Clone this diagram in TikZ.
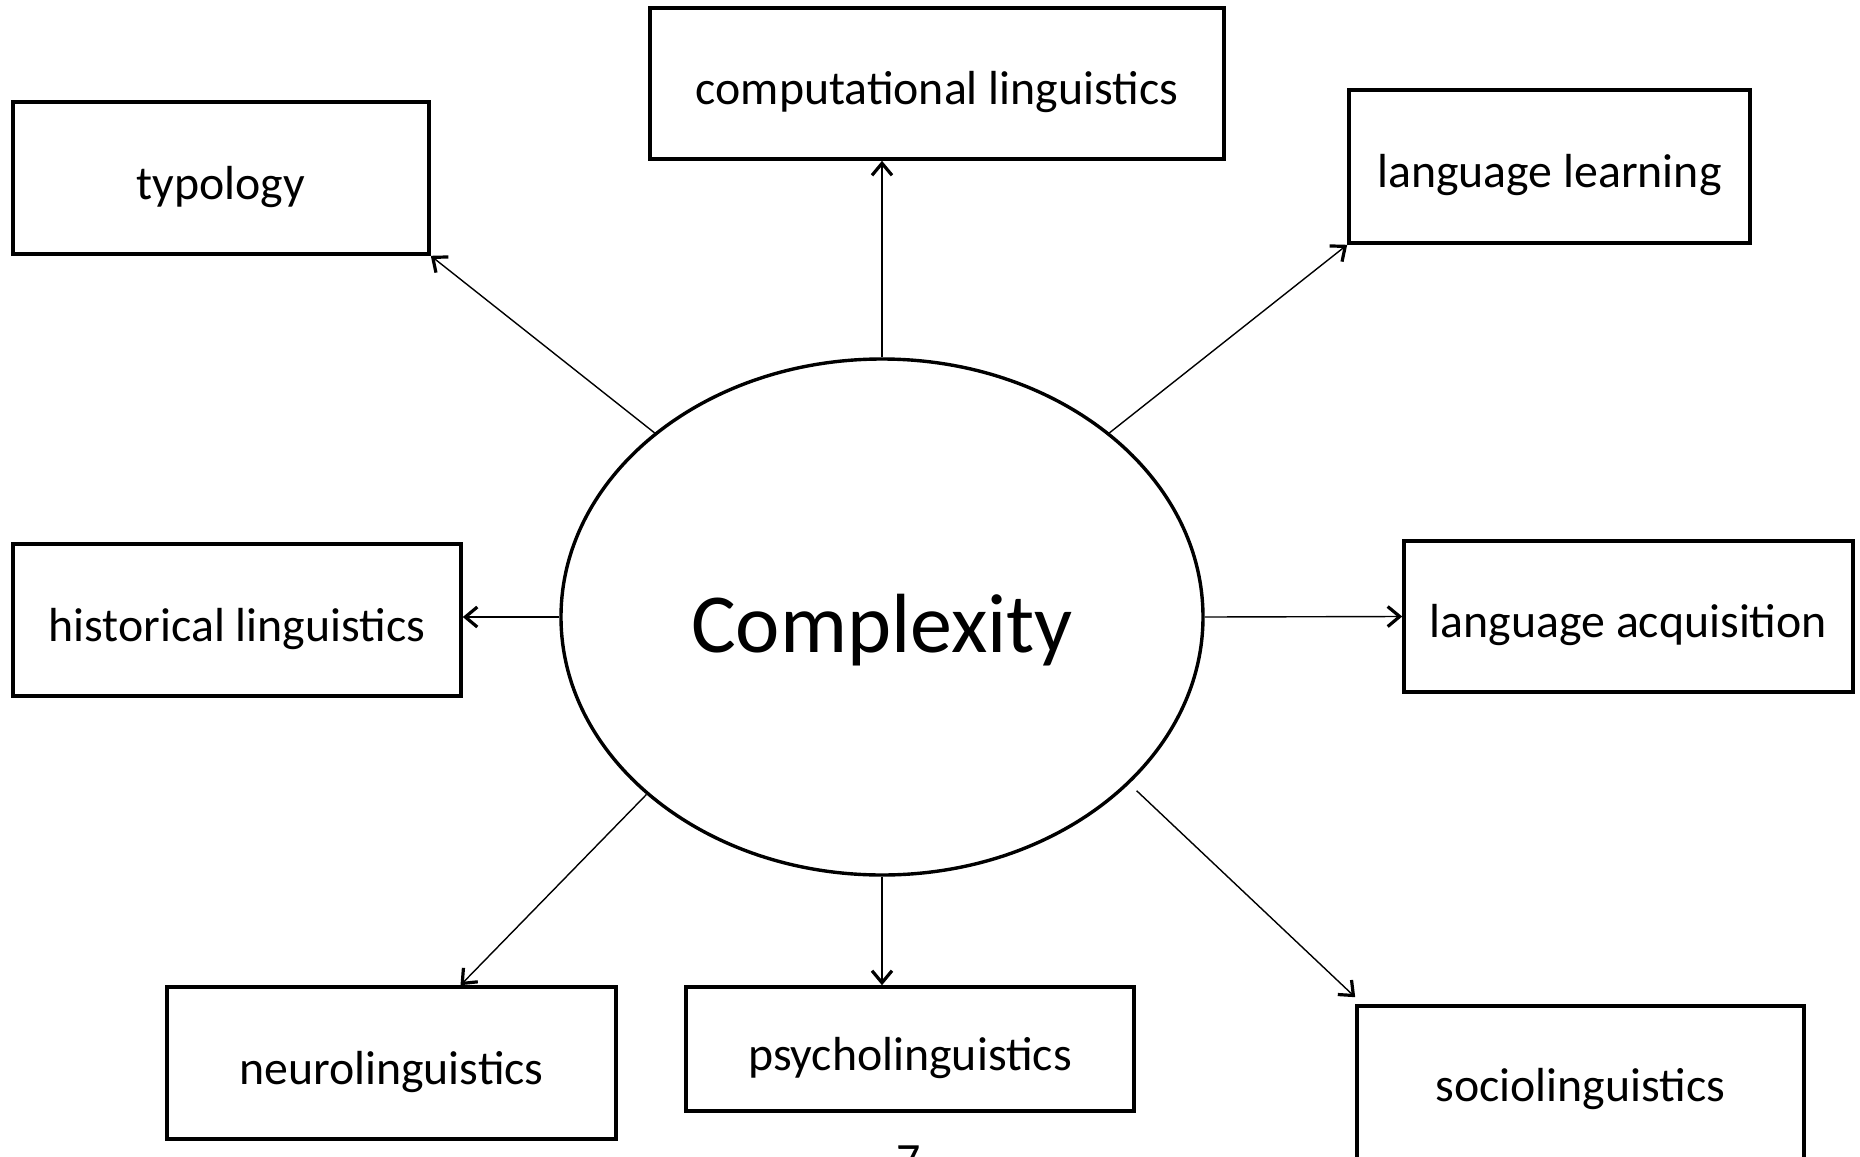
\documentclass[tikz,border=0pt]{standalone}
\usepackage{fontspec}
\setmainfont{Carlito}
\usetikzlibrary{arrows.meta,shapes.geometric,calc}
\begin{document}
\begin{tikzpicture}[x=0.5pt,y=-0.5pt,
  field/.style={draw,line width=1.8pt,rectangle,inner sep=0pt,
    font=\fontsize{23.9}{28}\selectfont,text height=21pt,text depth=0pt},
  hub/.style={draw,line width=1.7pt,ellipse,inner sep=0pt,
    minimum width=321pt,minimum height=258pt,font=\fontsize{42}{50}\selectfont,
    text height=35pt,text depth=0pt},
  link/.style={line width=0.7pt,-{Straight Barb[length=6pt,width=10pt,line width=1.6pt]}}]
\useasboundingbox (0,0) rectangle (1860,1157);
\node[hub] (ell) at (882,617) {Complexity};
\node[field,minimum width=208pt,minimum height=76pt] (typ) at (221,178) {typology};
\node[field,minimum width=287pt,minimum height=75.5pt] (comp) at (937,83.5) {computational linguistics};
\node[field,minimum width=200.5pt,minimum height=76.5pt] (learn) at (1549.5,166.5) {language learning};
\node[field,minimum width=224pt,minimum height=76pt] (hist) at (237,620) {historical linguistics};
\node[field,minimum width=224.5pt,minimum height=75.5pt] (acq) at (1628.5,616.5) {language acquisition};
\node[field,minimum width=224.5pt,minimum height=76pt] (neuro) at (391.5,1063) {neurolinguistics};
\node[field,minimum width=224pt,minimum height=62pt] (psycho) at (910,1049) {psycholinguistics};
\node[field,minimum width=223.5pt,minimum height=80pt,text height=15pt] (socio) at (1580.5,1086) {sociolinguistics};
\node[anchor=base,font=\fontsize{23.9}{28}\selectfont] (pg) at (909,1176) {7};
\draw[link] (ell.141.3) -- (typ.south east);
\draw[link] (ell.north) -- (ell.north |- comp.south);
\draw[link] (ell.39) -- (learn.south west);
\draw[link] (ell.west) -- (ell.west -| hist.east);
\draw[link] (ell.east) -- (acq.west);
\draw[link] (ell.217.5) -- ([xshift=34.5pt]neuro.north);
\draw[link] (ell.south) -- (ell.south |- psycho.north);
\draw[link,shorten <=5pt] (ell.-34.7) -- ([yshift=3.5pt]socio.north west);
\end{tikzpicture}
\end{document}
